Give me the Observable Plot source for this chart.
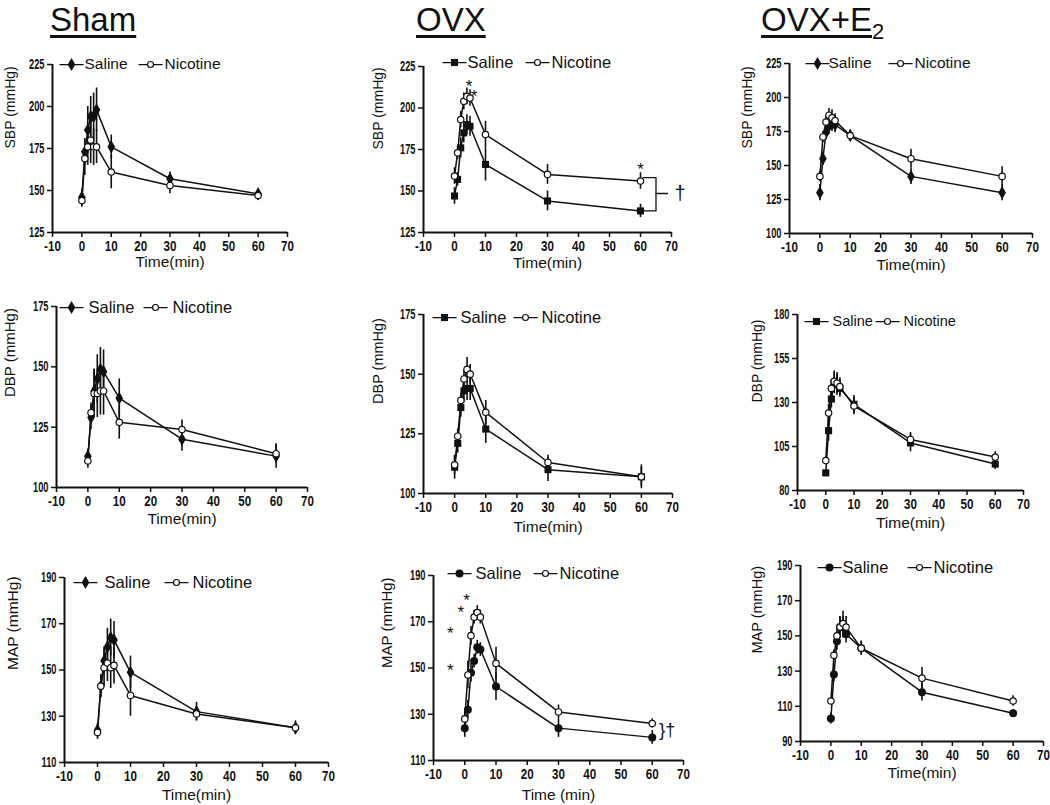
<!DOCTYPE html>
<html><head><meta charset="utf-8">
<script src="https://cdn.jsdelivr.net/npm/d3@7"></script>
<script src="https://cdn.jsdelivr.net/npm/@observablehq/plot@0.6"></script>
<style>
body{margin:0;background:#fff;}
#fig{position:relative;width:1050px;height:805px;overflow:hidden;background:#fff;font-family:"Liberation Sans",Arial,sans-serif;}
.panel{position:absolute;}
.title{position:absolute;top:3px;font-size:33px;line-height:33px;color:#111;text-decoration:underline;text-decoration-thickness:3px;text-underline-offset:4px;white-space:nowrap;}
.title sub{font-size:22px;line-height:0;}
</style></head>
<body><div id="fig"></div>
<script>
// ---------- data ----------
const time = [0, 1, 2, 3, 4, 5, 10, 30, 60];
const xTicks = [-10, 0, 10, 20, 30, 40, 50, 60, 70];
const sbpTicks = [125, 150, 175, 200, 225];
const e2SbpTicks = [100, 125, 150, 175, 200, 225];
const dbpTicks = [100, 125, 150, 175];
const e2DbpTicks = [80, 105, 130, 155, 180];
const mapTicks = [110, 130, 150, 170, 190];
const e2MapTicks = [90, 110, 130, 150, 170, 190];

// Sham
const shamSbpSaline = [146, 173, 186, 194, 194, 198, 176, 157, 148];
const shamSbpSalineErr = [5, 8, 14, 12, 14, 13, 7, 4, 3];
const shamSbpNicotine = [144, 169, 176, 180, 176, 176, 161, 153, 147];
const shamSbpNicotineErr = [4, 10, 11, 14, 11, 10, 10, 5, 3];
const shamDbpSaline = [113, 129, 140, 145, 149, 148, 137, 120, 113];
const shamDbpSalineErr = [3, 5, 9, 10, 9, 9, 8, 5, 5];
const shamDbpNicotine = [111, 131, 139, 139, 140, 140, 127, 124, 114];
const shamDbpNicotineErr = [3, 4, 10, 10, 10, 10, 7, 4, 4];
const shamMapSaline = [124, 143, 154, 160, 164, 163, 149, 132, 125];
const shamMapSalineErr = [3, 5, 6, 8, 8, 8, 7, 4, 3];
const shamMapNicotine = [123, 143, 151, 153, 151, 152, 139, 131, 125];
const shamMapNicotineErr = [3, 5, 8, 8, 9, 8, 9, 3, 2];

// OVX
const ovxSbpSaline = [147, 157, 176, 185, 190, 189, 166, 144, 138];
const ovxSbpSalineErr = [5, 4, 6, 6, 6, 6, 10, 6, 4];
const ovxSbpNicotine = [159, 173, 193, 204, 207, 206, 184, 160, 156];
const ovxSbpNicotineErr = [5, 4, 5, 5, 5, 5, 8, 6, 5];
const ovxDbpSaline = [111, 121, 136, 143, 144, 144, 127, 110, 107];
const ovxDbpSalineErr = [5, 4, 4, 5, 5, 5, 6, 5, 5];
const ovxDbpNicotine = [112, 124, 139, 148, 152, 150, 134, 113, 107];
const ovxDbpNicotineErr = [4, 3, 3, 4, 5, 4, 5, 3, 4];
const ovxMapSaline = [124, 132, 148, 153, 159, 158, 142, 124, 120];
const ovxMapSalineErr = [4, 4, 4, 3, 3, 3, 6, 4, 3];
const ovxMapNicotine = [128, 147, 164, 172, 174, 172, 152, 131, 126];
const ovxMapNicotineErr = [3, 6, 4, 3, 3, 3, 7, 3, 2];

// OVX+E2
const e2SbpSaline = [130, 155, 174, 179, 181, 180, 172, 142, 130];
const e2SbpSalineErr = [6, 5, 5, 6, 6, 6, 4, 6, 6];
const e2SbpNicotine = [142, 171, 182, 187, 185, 183, 172, 155, 142];
const e2SbpNicotineErr = [4, 4, 5, 5, 6, 5, 4, 7, 7];
const e2DbpSaline = [90, 114, 132, 141, 140, 138, 129, 107, 95];
const e2DbpSalineErr = [2, 6, 5, 6, 6, 5, 5, 5, 3];
const e2DbpNicotine = [97, 124, 138, 142, 141, 139, 128, 109, 99];
const e2DbpNicotineErr = [2, 5, 5, 6, 6, 5, 5, 4, 3];
const e2MapSaline = [103, 128, 147, 155, 155, 151, 143, 118, 106];
const e2MapSalineErr = [3, 4, 5, 6, 6, 5, 4, 5, 2];
const e2MapNicotine = [113, 139, 150, 155, 157, 155, 143, 126, 113];
const e2MapNicotineErr = [2, 3, 5, 6, 7, 6, 4, 6, 3];

// significance annotations
const ovxSbpStarTime = [4.7, 6.3, 60];
const ovxSbpStarValue = [216, 210, 166];
const ovxSbpBracketTime = [61, 65, 65, 61];
const ovxSbpBracketValue = [158, 158, 138, 138];
const ovxSbpBracketTickTime = [65, 68.7];
const ovxSbpBracketTickValue = [148.5, 148.5];
const ovxSbpDagger = {time: 72.8, value: 148.5, text: "†"};
const ovxMapStarTime = [-4.6, -4.6, -1.3, 0.6];
const ovxMapStarValue = [151, 167, 176, 181.5];
const ovxMapDagger = {time: 62.2, value: 123, text: "}†"};

const titles = [
  {html: "Sham", left: 50},
  {html: "OVX", left: 416},
  {html: "OVX+E<sub>2</sub>", left: 761}
];

// ---------- layout ----------
const ink = "#111";
const starMarks = (T, V) => Plot.text(T.map((t, i) => ({t, v: V[i]})), {x: "t", y: "v", text: () => "*", fontSize: 17, dy: 5, fill: ink});

const panels = [
  {frame: [52, 287, 64, 232], mR: 20, yDomain: [125, 225], yTicks: sbpTicks, ylabel: "SBP (mmHg)", ylFs: 14, ylDx: 42, xlabel: "Time(min)", xlDy: 30,
   saline: shamSbpSaline, salineErr: shamSbpSalineErr, nicotine: shamSbpNicotine, nicotineErr: shamSbpNicotineErr, symbol: "diamond",
   legend: {pos: [7, 31, 86, 111], dy: 0, fs: 15}},
  {frame: [423, 671, 66, 232], mR: 40, yDomain: [125, 225], yTicks: sbpTicks, ylabel: "SBP (mmHg)", ylFs: 14, ylDx: 45, xlabel: "Time(min)", xlDy: 31,
   saline: ovxSbpSaline, salineErr: ovxSbpSalineErr, nicotine: ovxSbpNicotine, nicotineErr: ovxSbpNicotineErr, symbol: "square",
   legend: {pos: [19, 43, 102, 127], dy: -4, fs: 16},
   extras: () => [
     starMarks(ovxSbpStarTime, ovxSbpStarValue),
     Plot.line(ovxSbpBracketTime.map((t, i) => ({t, v: ovxSbpBracketValue[i]})), {x: "t", y: "v", stroke: ink, strokeWidth: 1.3}),
     Plot.line(ovxSbpBracketTickTime.map((t, i) => ({t, v: ovxSbpBracketTickValue[i]})), {x: "t", y: "v", stroke: ink, strokeWidth: 1.3}),
     Plot.text([ovxSbpDagger], {x: "time", y: "value", text: "text", fontSize: 20, fill: ink})
   ]},
  {frame: [789, 1032, 63, 233], mR: 15, yDomain: [100, 225], yTicks: e2SbpTicks, ylabel: "SBP (mmHg)", ylFs: 14, ylDx: 42, xlabel: "Time(min)", xlDy: 32,
   saline: e2SbpSaline, salineErr: e2SbpSalineErr, nicotine: e2SbpNicotine, nicotineErr: e2SbpNicotineErr, symbol: "diamond",
   legend: {pos: [16, 38, 99, 124], dy: 0, fs: 15}},
  {frame: [56, 307, 306, 487], mR: 20, yDomain: [100, 175], yTicks: dbpTicks, ylabel: "DBP (mmHg)", ylFs: 15, ylDx: 46, xlabel: "Time(min)", xlDy: 32,
   saline: shamDbpSaline, salineErr: shamDbpSalineErr, nicotine: shamDbpNicotine, nicotineErr: shamDbpNicotineErr, symbol: "diamond",
   legend: {pos: [3, 31, 87, 115], dy: 1, fs: 16}},
  {frame: [423, 672, 314, 493], mR: 20, yDomain: [100, 175], yTicks: dbpTicks, ylabel: "DBP (mmHg)", ylFs: 14.5, ylDx: 45, xlabel: "Time(min)", xlDy: 34,
   saline: ovxDbpSaline, salineErr: ovxDbpSalineErr, nicotine: ovxDbpNicotine, nicotineErr: ovxDbpNicotineErr, symbol: "square",
   legend: {pos: [9, 36, 90, 117], dy: 3, fs: 16}},
  {frame: [797, 1023, 314, 490], mR: 20, yDomain: [80, 180], yTicks: e2DbpTicks, ylabel: "DBP (mmHg)", ylFs: 14, ylDx: 40, xlabel: "Time(min)", xlDy: 33,
   saline: e2DbpSaline, salineErr: e2DbpSalineErr, nicotine: e2DbpNicotine, nicotineErr: e2DbpNicotineErr, symbol: "square",
   legend: {pos: [7, 34, 78, 105], dy: 7, fs: 14}},
  {frame: [64, 328, 577, 762], mR: 20, yDomain: [110, 190], yTicks: mapTicks, ylabel: "MAP (mmHg)", ylFs: 15.5, ylDx: 51, xlabel: "Time(min)", xlDy: 33,
   saline: shamMapSaline, salineErr: shamMapSalineErr, nicotine: shamMapNicotine, nicotineErr: shamMapNicotineErr, symbol: "diamond",
   legend: {pos: [9, 39, 100, 127], dy: 5, fs: 16}},
  {frame: [433, 683, 575, 760], mR: 20, yDomain: [110, 190], yTicks: mapTicks, ylabel: "MAP (mmHg)", ylFs: 15, ylDx: 46, xlabel: "Time (min)", xlDy: 35,
   saline: ovxMapSaline, salineErr: ovxMapSalineErr, nicotine: ovxMapNicotine, nicotineErr: ovxMapNicotineErr, symbol: "circle",
   legend: {pos: [14, 41, 100, 125], dy: -2, fs: 16},
   extras: () => [
     starMarks(ovxMapStarTime, ovxMapStarValue),
     Plot.text([ovxMapDagger], {x: "time", y: "value", text: "text", fontSize: 18, textAnchor: "start", fill: ink})
   ]},
  {frame: [800, 1043, 565, 741], mR: 6, yDomain: [90, 190], yTicks: e2MapTicks, ylabel: "MAP (mmHg)", ylFs: 14.5, ylDx: 43, xlabel: "Time(min)", xlDy: 32,
   saline: e2MapSaline, salineErr: e2MapSalineErr, nicotine: e2MapNicotine, nicotineErr: e2MapNicotineErr, symbol: "circle",
   legend: {pos: [17, 41, 107, 132], dy: 2, fs: 16}}
];

// ---------- render ----------
const fig = document.getElementById("fig");
for (const t of titles) {
  const d = document.createElement("div");
  d.className = "title";
  d.style.left = t.left + "px";
  d.innerHTML = t.html;
  fig.appendChild(d);
}

// condense tick labels horizontally (as in the original)
function squeeze(svg, label, sx) {
  svg.querySelectorAll(`g[aria-label="${label}"] text`).forEach(t => {
    const tr = t.getAttribute("transform") || "";
    t.setAttribute("transform", `${tr} scale(${sx},1)`);
  });
}

for (const p of panels) {
  const [ax, xr, yt, yb] = p.frame;
  const mL = 62, mT = 14, mB = 50, mR = p.mR;
  const sal = time.map((t, i) => ({t, v: p.saline[i], e: p.salineErr[i]}));
  const nic = time.map((t, i) => ({t, v: p.nicotine[i], e: p.nicotineErr[i]}));
  const L = p.legend;
  const fa = {frameAnchor: "top-left", dy: L.dy};
  const svg = Plot.plot({
    width: xr - ax + mL + mR,
    height: yb - yt + mT + mB,
    marginLeft: mL, marginRight: mR, marginTop: mT, marginBottom: mB,
    style: {fontFamily: "'Liberation Sans', Arial, sans-serif", color: ink, background: "white", overflow: "visible"},
    x: {domain: [-10, 70]},
    y: {domain: p.yDomain},
    marks: [
      Plot.ruleX(sal, {x: "t", y1: d => d.v - d.e, y2: d => d.v + d.e, stroke: ink, strokeWidth: 1.6}),
      Plot.ruleX(nic, {x: "t", y1: d => d.v - d.e, y2: d => d.v + d.e, stroke: ink, strokeWidth: 1.6}),
      Plot.line(sal, {x: "t", y: "v", stroke: ink, strokeWidth: 1.5}),
      Plot.line(nic, {x: "t", y: "v", stroke: ink, strokeWidth: 1.5}),
      Plot.dot(sal, {x: "t", y: "v", symbol: p.symbol, r: 4, fill: ink}),
      Plot.dot(nic, {x: "t", y: "v", r: 3.2, fill: "white", stroke: ink, strokeWidth: 1.2}),
      Plot.axisY({ticks: p.yTicks, tickSize: 5, tickPadding: 3, fontSize: 14, fontWeight: "bold", label: null, tickFormat: d => String(d), strokeWidth: 1.5}),
      Plot.axisX({ticks: xTicks, tickSize: 5, tickPadding: 3, fontSize: 14.5, fontWeight: "bold", label: null, tickFormat: d => String(d), strokeWidth: 1.5}),
      Plot.ruleX([-10], {stroke: ink, strokeWidth: 2}),
      Plot.ruleY([p.yDomain[0]], {stroke: ink, strokeWidth: 2}),
      Plot.text([p.ylabel], {frameAnchor: "left", rotate: -90, dx: -p.ylDx, fontSize: p.ylFs, lineAnchor: "middle", fill: ink}),
      Plot.text([p.xlabel], {frameAnchor: "bottom", dy: p.xlDy, fontSize: 15.5, lineAnchor: "middle", fill: ink, ariaLabel: "x label"}),
      // legend
      Plot.text(["——"], {...fa, dx: L.pos[0], fontSize: 12, fontWeight: "bold", textAnchor: "start", lineAnchor: "middle", fill: ink}),
      Plot.dot([0], {...fa, dx: L.pos[0] + 12, symbol: p.symbol, r: 4, fill: ink}),
      Plot.text(["Saline"], {...fa, dx: L.pos[1] + 1, fontSize: L.fs + 0.5, textAnchor: "start", lineAnchor: "middle", fill: ink}),
      Plot.text(["——"], {...fa, dx: L.pos[2], fontSize: 12, fontWeight: "bold", textAnchor: "start", lineAnchor: "middle", fill: ink}),
      Plot.dot([0], {...fa, dx: L.pos[2] + 12, r: 3, fill: "white", stroke: ink, strokeWidth: 1.2}),
      Plot.text(["Nicotine"], {...fa, dx: L.pos[3] + 1, fontSize: L.fs + 0.5, textAnchor: "start", lineAnchor: "middle", fill: ink}),
      ...(p.extras ? p.extras() : [])
    ]
  });
  squeeze(svg, "y-axis tick label", 0.66);
  squeeze(svg, "x-axis tick label", 0.8);
  squeeze(svg, "x label", 0.85);
  const wrap = document.createElement("div");
  wrap.className = "panel";
  wrap.style.left = (ax - mL) + "px";
  wrap.style.top = (yt - mT) + "px";
  wrap.appendChild(svg);
  fig.appendChild(wrap);
}
</script>
</body></html>
